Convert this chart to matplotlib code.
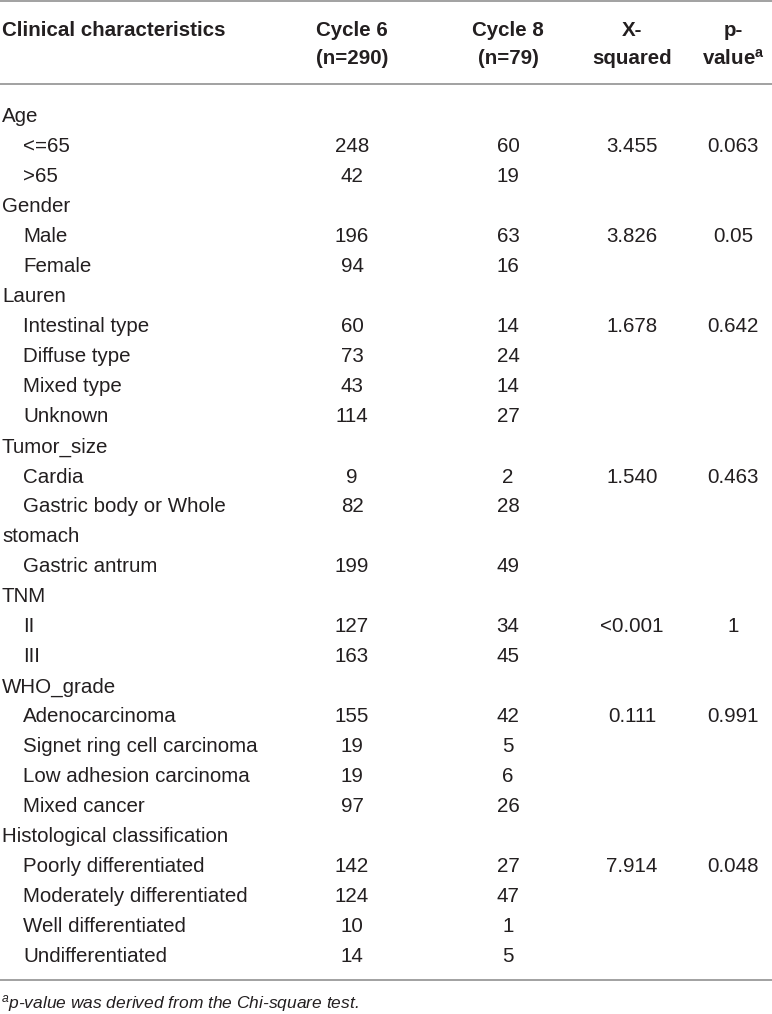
import matplotlib
matplotlib.use("Agg")
import matplotlib.pyplot as plt
from matplotlib.lines import Line2D

plt.rcParams['font.family'] = ['Liberation Sans', 'DejaVu Sans']
plt.rcParams['mathtext.fontset'] = 'custom'
plt.rcParams['mathtext.rm'] = 'Liberation Sans'
plt.rcParams['mathtext.it'] = 'Liberation Sans:italic'
plt.rcParams['mathtext.bf'] = 'Liberation Sans:bold'

# table content
headers1 = ["Cycle 6", "Cycle 8", "X-", "p-"]
headers2 = ["(n=290)", "(n=79)", "squared", "value$^{\\mathregular{a}}$"]

labels = ["Age", "<=65", ">65",
          "Gender", "Male", "Female",
          "Lauren", "Intestinal type", "Diffuse type", "Mixed type", "Unknown",
          "Tumor_size", "Cardia", "Gastric body or Whole", "stomach", "Gastric antrum",
          "TNM", "II", "III",
          "WHO_grade", "Adenocarcinoma", "Signet ring cell carcinoma",
          "Low adhesion carcinoma", "Mixed cancer",
          "Histological classification", "Poorly differentiated",
          "Moderately differentiated", "Well differentiated", "Undifferentiated"]
indent = [0, 1, 1,
          0, 1, 1,
          0, 1, 1, 1, 1,
          0, 1, 1, 0, 1,
          0, 1, 1,
          0, 1, 1, 1, 1,
          0, 1, 1, 1, 1]
cycle6 = ["", "248", "42",
          "", "196", "94",
          "", "60", "73", "43", "114",
          "", "9", "82", "", "199",
          "", "127", "163",
          "", "155", "19", "19", "97",
          "", "142", "124", "10", "14"]
cycle8 = ["", "60", "19",
          "", "63", "16",
          "", "14", "24", "14", "27",
          "", "2", "28", "", "49",
          "", "34", "45",
          "", "42", "5", "6", "26",
          "", "27", "47", "1", "5"]
xsq = ["", "3.455", "",
       "", "3.826", "",
       "", "1.678", "", "", "",
       "", "1.540", "", "", "",
       "", "<0.001", "",
       "", "0.111", "", "", "",
       "", "7.914", "", "", ""]
pval = ["", "0.063", "",
        "", "0.05", "",
        "", "0.642", "", "", "",
        "", "0.463", "", "", "",
        "", "1", "",
        "", "0.991", "", "", "",
        "", "0.048", "", "", ""]
footnote = "$^{\\mathit{a}}$p-value was derived from the Chi-square test."

W, H = 772, 1014
fig = plt.figure(figsize=(W/100, H/100), dpi=100)
fig.patch.set_facecolor("white")

txtc = "#231f20"
linec = "#9a9a9a"
fs = 14.8

def fx(x):
    return x/W

def fy(y):
    return 1 - y/H

def hline(y):
    fig.add_artist(Line2D([0, 1], [fy(y), fy(y)], transform=fig.transFigure,
                          color=linec, lw=1.3))

col_x = [352, 508, 632, 733]

# header
hline(1)
fig.text(fx(2), fy(28), "Clinical characteristics", fontsize=fs, fontweight="bold",
         color=txtc, va="center_baseline", ha="left")
for cx, h1, h2 in zip(col_x, headers1, headers2):
    fig.text(fx(cx), fy(28), h1, fontsize=fs, fontweight="bold", color=txtc,
             va="center_baseline", ha="center")
    fig.text(fx(cx), fy(57), h2, fontsize=fs, fontweight="bold", color=txtc,
             va="center_baseline", ha="center")
hline(84)

# body rows
y0 = 115
step = 30
for i, lab in enumerate(labels):
    y = y0 + i*step
    fig.text(fx(2 + 21*indent[i]), fy(y), lab, fontsize=fs, color=txtc,
             va="center_baseline", ha="left")
    for cx, col in zip(col_x, [cycle6, cycle8, xsq, pval]):
        if col[i]:
            fig.text(fx(cx), fy(y), col[i], fontsize=fs, color=txtc,
                     va="center_baseline", ha="center")

hline(980)
fig.text(fx(1), fy(1001), footnote, fontsize=12.5, style="italic", color=txtc,
         va="center_baseline", ha="left")

fig.savefig("out.png", dpi=100, facecolor="white")
